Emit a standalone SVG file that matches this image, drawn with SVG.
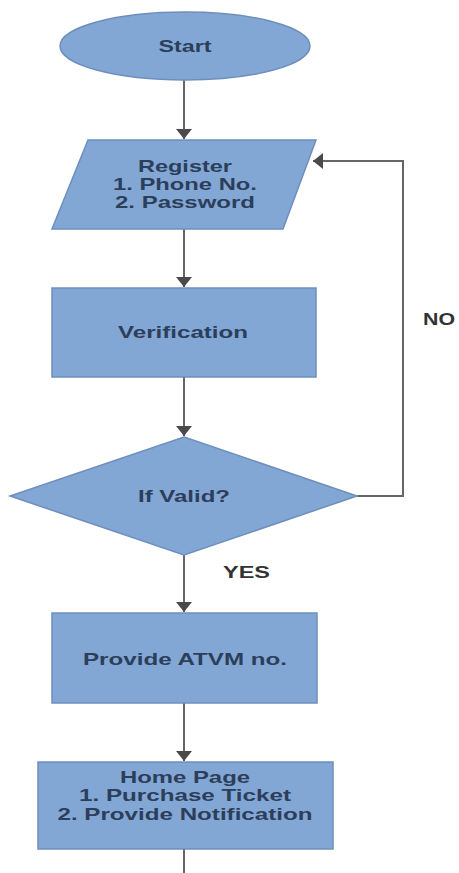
<svg xmlns="http://www.w3.org/2000/svg" width="459" height="873" viewBox="0 0 459 873">
<style>
.shape{fill:#82a7d5;stroke:#6d8fbd;stroke-width:1.5}
.t{font-family:"Liberation Sans",Arial,sans-serif;font-weight:bold;font-size:17px;fill:#2c3e5a;text-anchor:middle}
.lbl{font-family:"Liberation Sans",Arial,sans-serif;font-weight:bold;font-size:16px;fill:#333}
.c{fill:none;stroke:#666;stroke-width:2}
</style>
<defs>
<marker id="arr" markerWidth="8" markerHeight="6" refX="8" refY="3" orient="auto" markerUnits="userSpaceOnUse" viewBox="0 0 8 6">
<path d="M0,0 L8,3 L0,6 Z" fill="#4a4a4a"/>
</marker>
<marker id="ah" viewBox="0 0 10 10" refX="10" refY="5" markerWidth="10" markerHeight="16" orient="auto" markerUnits="userSpaceOnUse" preserveAspectRatio="none">
<path d="M0,0 L10,5 L0,10 Z" fill="#4a4a4a"/>
</marker>
</defs>
<rect width="459" height="873" fill="#fff"/>
<g id="connectors">
<line class="c" x1="184" y1="80" x2="184" y2="139" marker-end="url(#ah)"/>
<line class="c" x1="184" y1="229" x2="184" y2="287" marker-end="url(#ah)"/>
<line class="c" x1="184" y1="377" x2="184" y2="436" marker-end="url(#ah)"/>
<polyline class="c" points="357,496 403,496 403,161 313,161" marker-end="url(#ah)"/>
<line class="c" x1="184" y1="555" x2="184" y2="612" marker-end="url(#ah)"/>
<line class="c" x1="184" y1="703" x2="184" y2="761" marker-end="url(#ah)"/>
<line class="c" x1="184" y1="849" x2="184" y2="873"/>
<text class="lbl" x="423" y="325" textLength="32" lengthAdjust="spacingAndGlyphs">NO</text>
<text class="lbl" x="223" y="578" textLength="47" lengthAdjust="spacingAndGlyphs">YES</text>
</g>
<g id="start">
<ellipse class="shape" cx="185" cy="46" rx="125" ry="34"/>
<text class="t" x="185" y="52" textLength="53" lengthAdjust="spacingAndGlyphs">Start</text>
</g>
<g id="register">
<polygon class="shape" points="88,140 316,140 283,229 52,229"/>
<text class="t" x="185" y="172" textLength="94" lengthAdjust="spacingAndGlyphs">Register</text>
<text class="t" x="185" y="190" textLength="144" lengthAdjust="spacingAndGlyphs">1. Phone No.</text>
<text class="t" x="185" y="208" textLength="140" lengthAdjust="spacingAndGlyphs">2. Password</text>
</g>
<g id="verification">
<rect class="shape" x="52" y="288" width="264" height="89"/>
<text class="t" x="183" y="338" textLength="130" lengthAdjust="spacingAndGlyphs">Verification</text>
</g>
<g id="valid">
<polygon class="shape" points="184,437 357,496 184,555 10,496"/>
<text class="t" x="184" y="502" textLength="92" lengthAdjust="spacingAndGlyphs">If Valid?</text>
</g>
<g id="atvm">
<rect class="shape" x="52" y="613" width="265" height="90"/>
<text class="t" x="185" y="665" textLength="204" lengthAdjust="spacingAndGlyphs">Provide ATVM no.</text>
</g>
<g id="home">
<rect class="shape" x="38" y="762" width="295" height="87"/>
<text class="t" x="185" y="783" textLength="130" lengthAdjust="spacingAndGlyphs">Home Page</text>
<text class="t" x="185" y="801" textLength="212" lengthAdjust="spacingAndGlyphs">1. Purchase Ticket</text>
<text class="t" x="185" y="820" textLength="255" lengthAdjust="spacingAndGlyphs">2. Provide Notification</text>
</g>
</svg>
